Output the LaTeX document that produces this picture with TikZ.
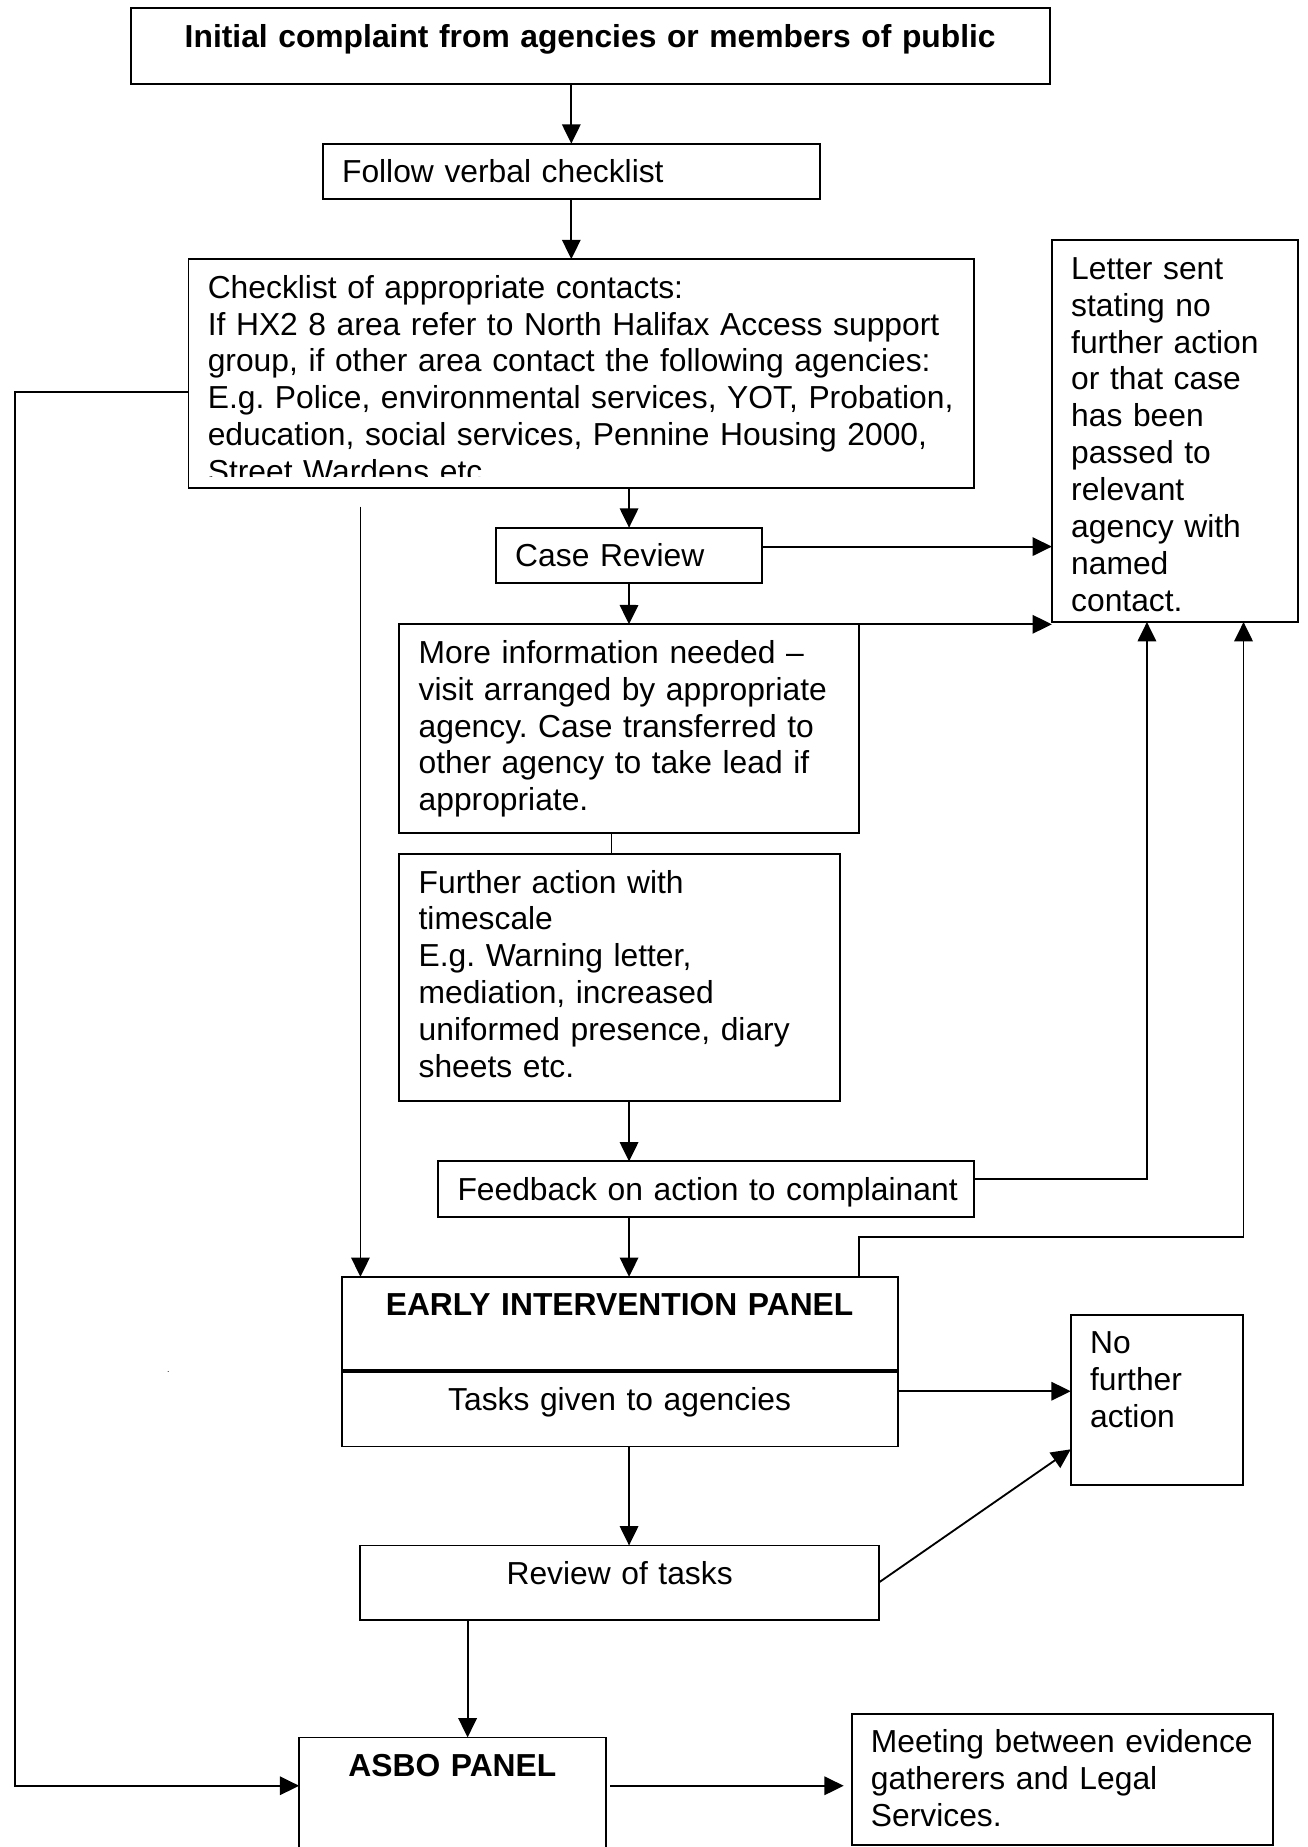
\documentclass[tikz,border=0pt]{standalone}
\usepackage{fontspec}
\usepackage{tikz}
\usetikzlibrary{arrows.meta}
\setmainfont{Liberation Sans}

\begin{document}
\frenchspacing
\begin{tikzpicture}[x=0.6706pt,y=-0.6706pt,>={Triangle[length=11pt,width=10.5pt]},
        box/.style={rectangle,draw,line width=1.1pt,anchor=north west,outer sep=0pt,
                    inner xsep=11pt,inner ysep=0pt,text height=22.2pt,align=left,
                    font=\fontsize{18.1}{21}\selectfont},
        title/.style={box,align=center,font=\fontsize{18.1}{21}\selectfont\bfseries},
        link/.style={->,line width=1.05pt}]
      \useasboundingbox(0,0)rectangle(1110,1568);
      % boxes
      \node[title,text width=501.1pt,text depth=20.7pt](init) at(111,7){Initial complaint from agencies or members of public};
      \node[box,text width=261pt,text depth=9.3pt](verbal) at(274,122){Follow verbal checklist};
      \node[box,minimum width=447.3pt,minimum height=130.1pt](chk) at(160,220){};
      \begin{scope}
        \clip(chk.north west)rectangle([yshift=6.3pt]chk.south east);
        \node[box,draw=none,text width=425.3pt](chktxt) at(chk.north west){Checklist of appropriate contacts:\\If HX2 8 area refer to North Halifax Access support\\group, if other area contact the following agencies:\\E.g. Police, environmental services, YOT, Probation,\\education, social services, Pennine Housing 2000,\\Street Wardens etc};
      \end{scope}
      \node[box,text width=129.6pt,text depth=9.3pt](rev) at(421,448){Case Review};
      \node[box,text width=118.2pt,text depth=195.1pt](letter) at(893,204){Letter sent\\stating no\\further action\\or that case\\has been\\passed to\\relevant\\agency with\\named\\contact.};
      \node[box,text width=239.5pt,text depth=96.5pt](info) at(339,530){More information needed --\\visit arranged by appropriate\\agency. Case transferred to\\other agency to take lead if\\appropriate.};
      \node[box,text width=228.8pt,text depth=118.6pt](act) at(339,725){Further action with\\timescale\\E.g. Warning letter,\\mediation, increased\\uniformed presence, diary\\sheets etc.};
      \node[box,text width=283.1pt,text depth=9.3pt](fb) at(372,986){\mbox{Feedback on action to complainant}};
      \node[title,text width=294.5pt,text depth=31.4pt](eip) at(290,1084){EARLY INTERVENTION PANEL};
      \node[box,align=center,text width=294.5pt,text depth=20.7pt](tasks) at(290,1164){Tasks given to agencies};
      \draw[line width=2pt](eip.south west)--(eip.south east);
      \node[box,text width=75.9pt,text depth=75pt](nfa) at(909,1116){No\\further\\action};
      \node[box,align=center,text width=273.1pt,text depth=20pt](rt) at(306,1312){Review of tasks};
      \node[title,text width=152.4pt,text depth=71.7pt](asbo) at(254,1475){ASBO PANEL};
      \node[box,text width=218.1pt,text depth=52.2pt](meet) at(723,1455){Meeting between evidence\\gatherers and Legal\\Services.};
      \node[font=\fontsize{5}{6}\selectfont,inner sep=0pt](dot) at(143,1165){.};
      % connectors
      \draw[link](init.south-|verbal.north)--(verbal.north);
      \draw[link](verbal.south)--(verbal.south|-chk.north);
      \draw[link](chk.south-|rev.north)--(rev.north);
      \coordinate(revout) at([yshift=5pt]rev.east);
      \draw[link](revout)--(revout-|letter.west);
      \draw[link](rev.south)--(info.north);
      \draw[link](info.north east)--(info.north east-|letter.west);
      \coordinate(infoout) at([xshift=-10pt]info.south);
      \draw[line width=1.05pt](infoout)--(infoout|-act.north);
      \draw[link](act.south-|rev.south)--(fb.north-|rev.south);
      \coordinate(fbout) at([yshift=6pt]fb.east);
      \coordinate(letin1) at([xshift=-16pt]letter.south);
      \draw[link](fbout)-|(letin1);
      \draw[link](fb.south-|rev.south)--(eip.north-|rev.south);
      \coordinate(eipout) at([xshift=-22pt]eip.north east);
      \coordinate(letin2) at([xshift=39pt]letter.south);
      \draw[link](eipout)--++(0,-34)-|(letin2);
      \coordinate(chkout) at([yshift=-10.7pt]chk.west);
      \coordinate(asboin) at([yshift=-27.5pt]asbo.north west);
      \draw[link](chkout)--++(-147,0)|-(asboin);
      \coordinate(lefttop) at(306,430);
      \draw[link](lefttop)--(lefttop|-eip.north);
      \coordinate(tasksout) at([yshift=10pt]tasks.east);
      \draw[link](tasksout)--(tasksout-|nfa.west);
      \draw[link](tasks.south-|rev.south)--(rt.north-|rev.south);
      \draw[link](rt.east)--([yshift=20.5pt]nfa.south west);
      \coordinate(rtout) at([xshift=61pt]rt.south west);
      \draw[link](rtout)--(rtout|-asbo.north);
      \coordinate(asboout) at(asboin-|asbo.east);
      \draw[link,shorten >=4.5pt]([xshift=2.7pt]asboout)--(asboout-|meet.west);
    \end{tikzpicture}
\end{document}
